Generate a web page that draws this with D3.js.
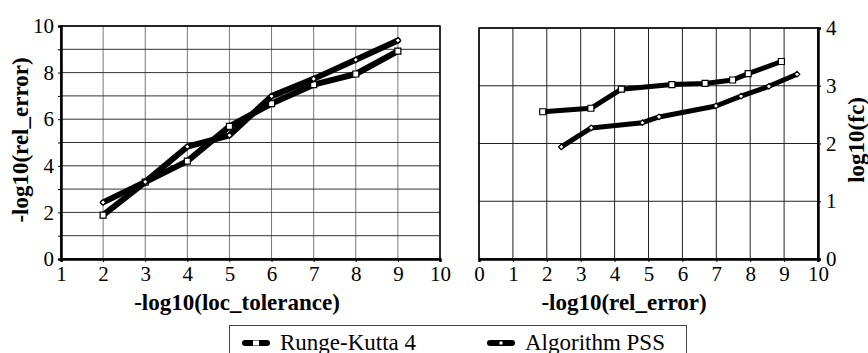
<!DOCTYPE html>
<html>
<head>
<meta charset="utf-8">
<script src="https://cdn.jsdelivr.net/npm/d3@7"></script>
<style>body { margin: 0; }</style>
</head>
<body>
<svg id="chart" width="868" height="353"></svg>
<script>
// -log10(loc_tolerance) steps used by both methods
const tolerances = [2, 3, 4, 5, 6, 7, 8, 9];

// -log10(rel_error) reached at each tolerance
const rkError = [1.88, 3.3, 4.2, 5.69, 6.67, 7.48, 7.94, 8.92];
const pssError = [2.43, 3.31, 4.82, 5.31, 6.99, 7.73, 8.55, 9.38];

// log10(function calls)
const rkCalls = [2.55, 2.61, 2.94, 3.02, 3.04, 3.10, 3.21, 3.42];
const pssCalls = [1.94, 2.27, 2.36, 2.46, 2.65, 2.82, 2.99, 3.20];

const leftXTicks = [1, 2, 3, 4, 5, 6, 7, 8, 9, 10];
const leftYTicks = [0, 2, 4, 6, 8, 10];
const rightXTicks = [0, 1, 2, 3, 4, 5, 6, 7, 8, 9, 10];
const rightYTicks = [0, 1, 2, 3, 4];

const seriesNames = ['Runge-Kutta 4', 'Algorithm PSS'];

const FONT = 'Times New Roman';
const svg = d3.select('#chart');

const left = { x0: 61, x1: 440, y0: 26, y1: 259 };
const right = { x0: 479, x1: 818, y0: 28, y1: 259 };

const lx = d3.scaleLinear().domain([1, 10]).range([left.x0, left.x1]);
const ly = d3.scaleLinear().domain([0, 10]).range([left.y1, left.y0]);
const rx = d3.scaleLinear().domain([0, 10]).range([right.x0, right.x1]);
const ry = d3.scaleLinear().domain([0, 4]).range([right.y1, right.y0]);

function drawGrid(xs, ys, xValues, yValues, vColor, hColor) {
  const g = svg.append('g');
  g.selectAll('line.v')
    .data(xValues)
    .enter()
    .append('line')
    .attr('x1', (d) => xs(d)).attr('x2', (d) => xs(d))
    .attr('y1', ys.range()[0]).attr('y2', ys.range()[1])
    .attr('stroke', vColor).attr('stroke-width', 1);
  g.selectAll('line.h')
    .data(yValues)
    .enter()
    .append('line')
    .attr('y1', (d) => ys(d)).attr('y2', (d) => ys(d))
    .attr('x1', xs.range()[0]).attr('x2', xs.range()[1])
    .attr('stroke', hColor).attr('stroke-width', 1);
}

// left panel
drawGrid(lx, ly, d3.range(1, 11), d3.range(0, 11), '#777', '#333');
svg.append('rect')
  .attr('x', left.x0).attr('y', left.y0)
  .attr('width', left.x1 - left.x0).attr('height', left.y1 - left.y0)
  .attr('fill', 'none').attr('stroke', '#000').attr('stroke-width', 1.5);

const lxAxis = svg.append('g')
  .attr('transform', `translate(0,${left.y1})`)
  .call(d3.axisBottom(lx).tickValues(leftXTicks).tickSize(3).tickFormat(d3.format('d')));
const lyAxis = svg.append('g')
  .attr('transform', `translate(${left.x0},0)`)
  .call(d3.axisLeft(ly).ticks(10).tickSize(3).tickFormat((d) => (leftYTicks.includes(d) ? d : '')));

// right panel
drawGrid(rx, ry, d3.range(0, 11), d3.range(0, 5), '#222', '#222');
svg.append('rect')
  .attr('x', right.x0).attr('y', right.y0)
  .attr('width', right.x1 - right.x0).attr('height', right.y1 - right.y0)
  .attr('fill', 'none').attr('stroke', '#000').attr('stroke-width', 1.5);

const rxAxis = svg.append('g')
  .attr('transform', `translate(0,${right.y1})`)
  .call(d3.axisBottom(rx).tickValues(rightXTicks).tickSize(3).tickFormat(d3.format('d')));
const ryAxis = svg.append('g')
  .attr('transform', `translate(${right.x1},0)`)
  .call(d3.axisRight(ry).tickValues(rightYTicks).tickSize(3).tickFormat(d3.format('d')));

[lxAxis, lyAxis, rxAxis, ryAxis].forEach((a) => {
  a.attr('font-family', FONT).attr('font-size', 21);
  a.select('.domain').attr('stroke', '#000').attr('stroke-width', 2.5);
  a.selectAll('.tick line').attr('stroke', '#000').attr('stroke-width', 1);
  a.selectAll('text').attr('fill', '#000');
});
lxAxis.selectAll('text').attr('dy', '0.72em').attr('y', 7);
rxAxis.selectAll('text').attr('dy', '0.72em').attr('y', 7);
lyAxis.selectAll('text').attr('x', -7);
ryAxis.selectAll('text').attr('x', 8);

// axis titles
const titles = [
  { text: '-log10(loc_tolerance)', transform: 'translate(237,310)' },
  { text: '-log10(rel_error)', transform: 'translate(624,310)' },
  { text: '-log10(rel_error)', transform: 'translate(28,140) rotate(-90)' },
  { text: 'log10(fc)', transform: 'translate(864,140) rotate(-90)' },
];
svg.append('g')
  .attr('font-family', FONT)
  .attr('font-weight', 'bold')
  .attr('font-size', 23)
  .attr('text-anchor', 'middle')
  .selectAll('text')
  .data(titles)
  .enter()
  .append('text')
  .attr('transform', (d) => d.transform)
  .text((d) => d.text);

// series
const line = d3.line();

function drawSeries(xs, ys, xVals, yVals, shape, width) {
  const pts = xVals.map((x, i) => [xs(x), ys(yVals[i])]);
  svg.append('path')
    .attr('d', line(pts))
    .attr('fill', 'none')
    .attr('stroke', '#000')
    .attr('stroke-width', width)
    .attr('stroke-linejoin', 'round')
    .attr('stroke-linecap', 'round');
  svg.append('g')
    .selectAll('path')
    .data(pts)
    .enter()
    .append('path')
    .attr('transform', (d) => `translate(${d[0]},${d[1]})`)
    .attr('d', shape === 'square' ? 'M-3,-3H3V3H-3Z' : 'M0,-2.8L2.8,0L0,2.8L-2.8,0Z')
    .attr('fill', '#fff')
    .attr('stroke', '#000')
    .attr('stroke-width', 1.2);
}

drawSeries(lx, ly, tolerances, rkError, 'square', 6);
drawSeries(lx, ly, tolerances, pssError, 'diamond', 6);
drawSeries(rx, ry, rkError, rkCalls, 'square', 5);
drawSeries(rx, ry, pssError, pssCalls, 'diamond', 5);

// legend
svg.append('rect')
  .attr('x', 229.5).attr('y', 325.5)
  .attr('width', 457).attr('height', 40)
  .attr('fill', '#fff')
  .attr('stroke', '#444').attr('stroke-width', 1);

const legendItems = [
  { name: seriesNames[0], shape: 'square', x: 245 },
  { name: seriesNames[1], shape: 'diamond', x: 490 },
];
const legend = svg.append('g')
  .selectAll('g')
  .data(legendItems)
  .enter()
  .append('g')
  .attr('transform', (d) => `translate(${d.x},343)`);
legend.append('line')
  .attr('x1', 0).attr('x2', 22)
  .attr('stroke', '#000').attr('stroke-width', 6)
  .attr('stroke-linecap', 'round');
legend.append('path')
  .attr('d', (d) => (d.shape === 'square' ? 'M8,-2.5H14V2.5H8Z' : 'M9.5,-1.5H12.5V1.5H9.5Z'))
  .attr('fill', '#fff');
legend.append('text')
  .attr('x', 35).attr('y', 7)
  .attr('font-family', FONT)
  .attr('font-size', 23)
  .text((d) => d.name);
</script>
</body>
</html>
